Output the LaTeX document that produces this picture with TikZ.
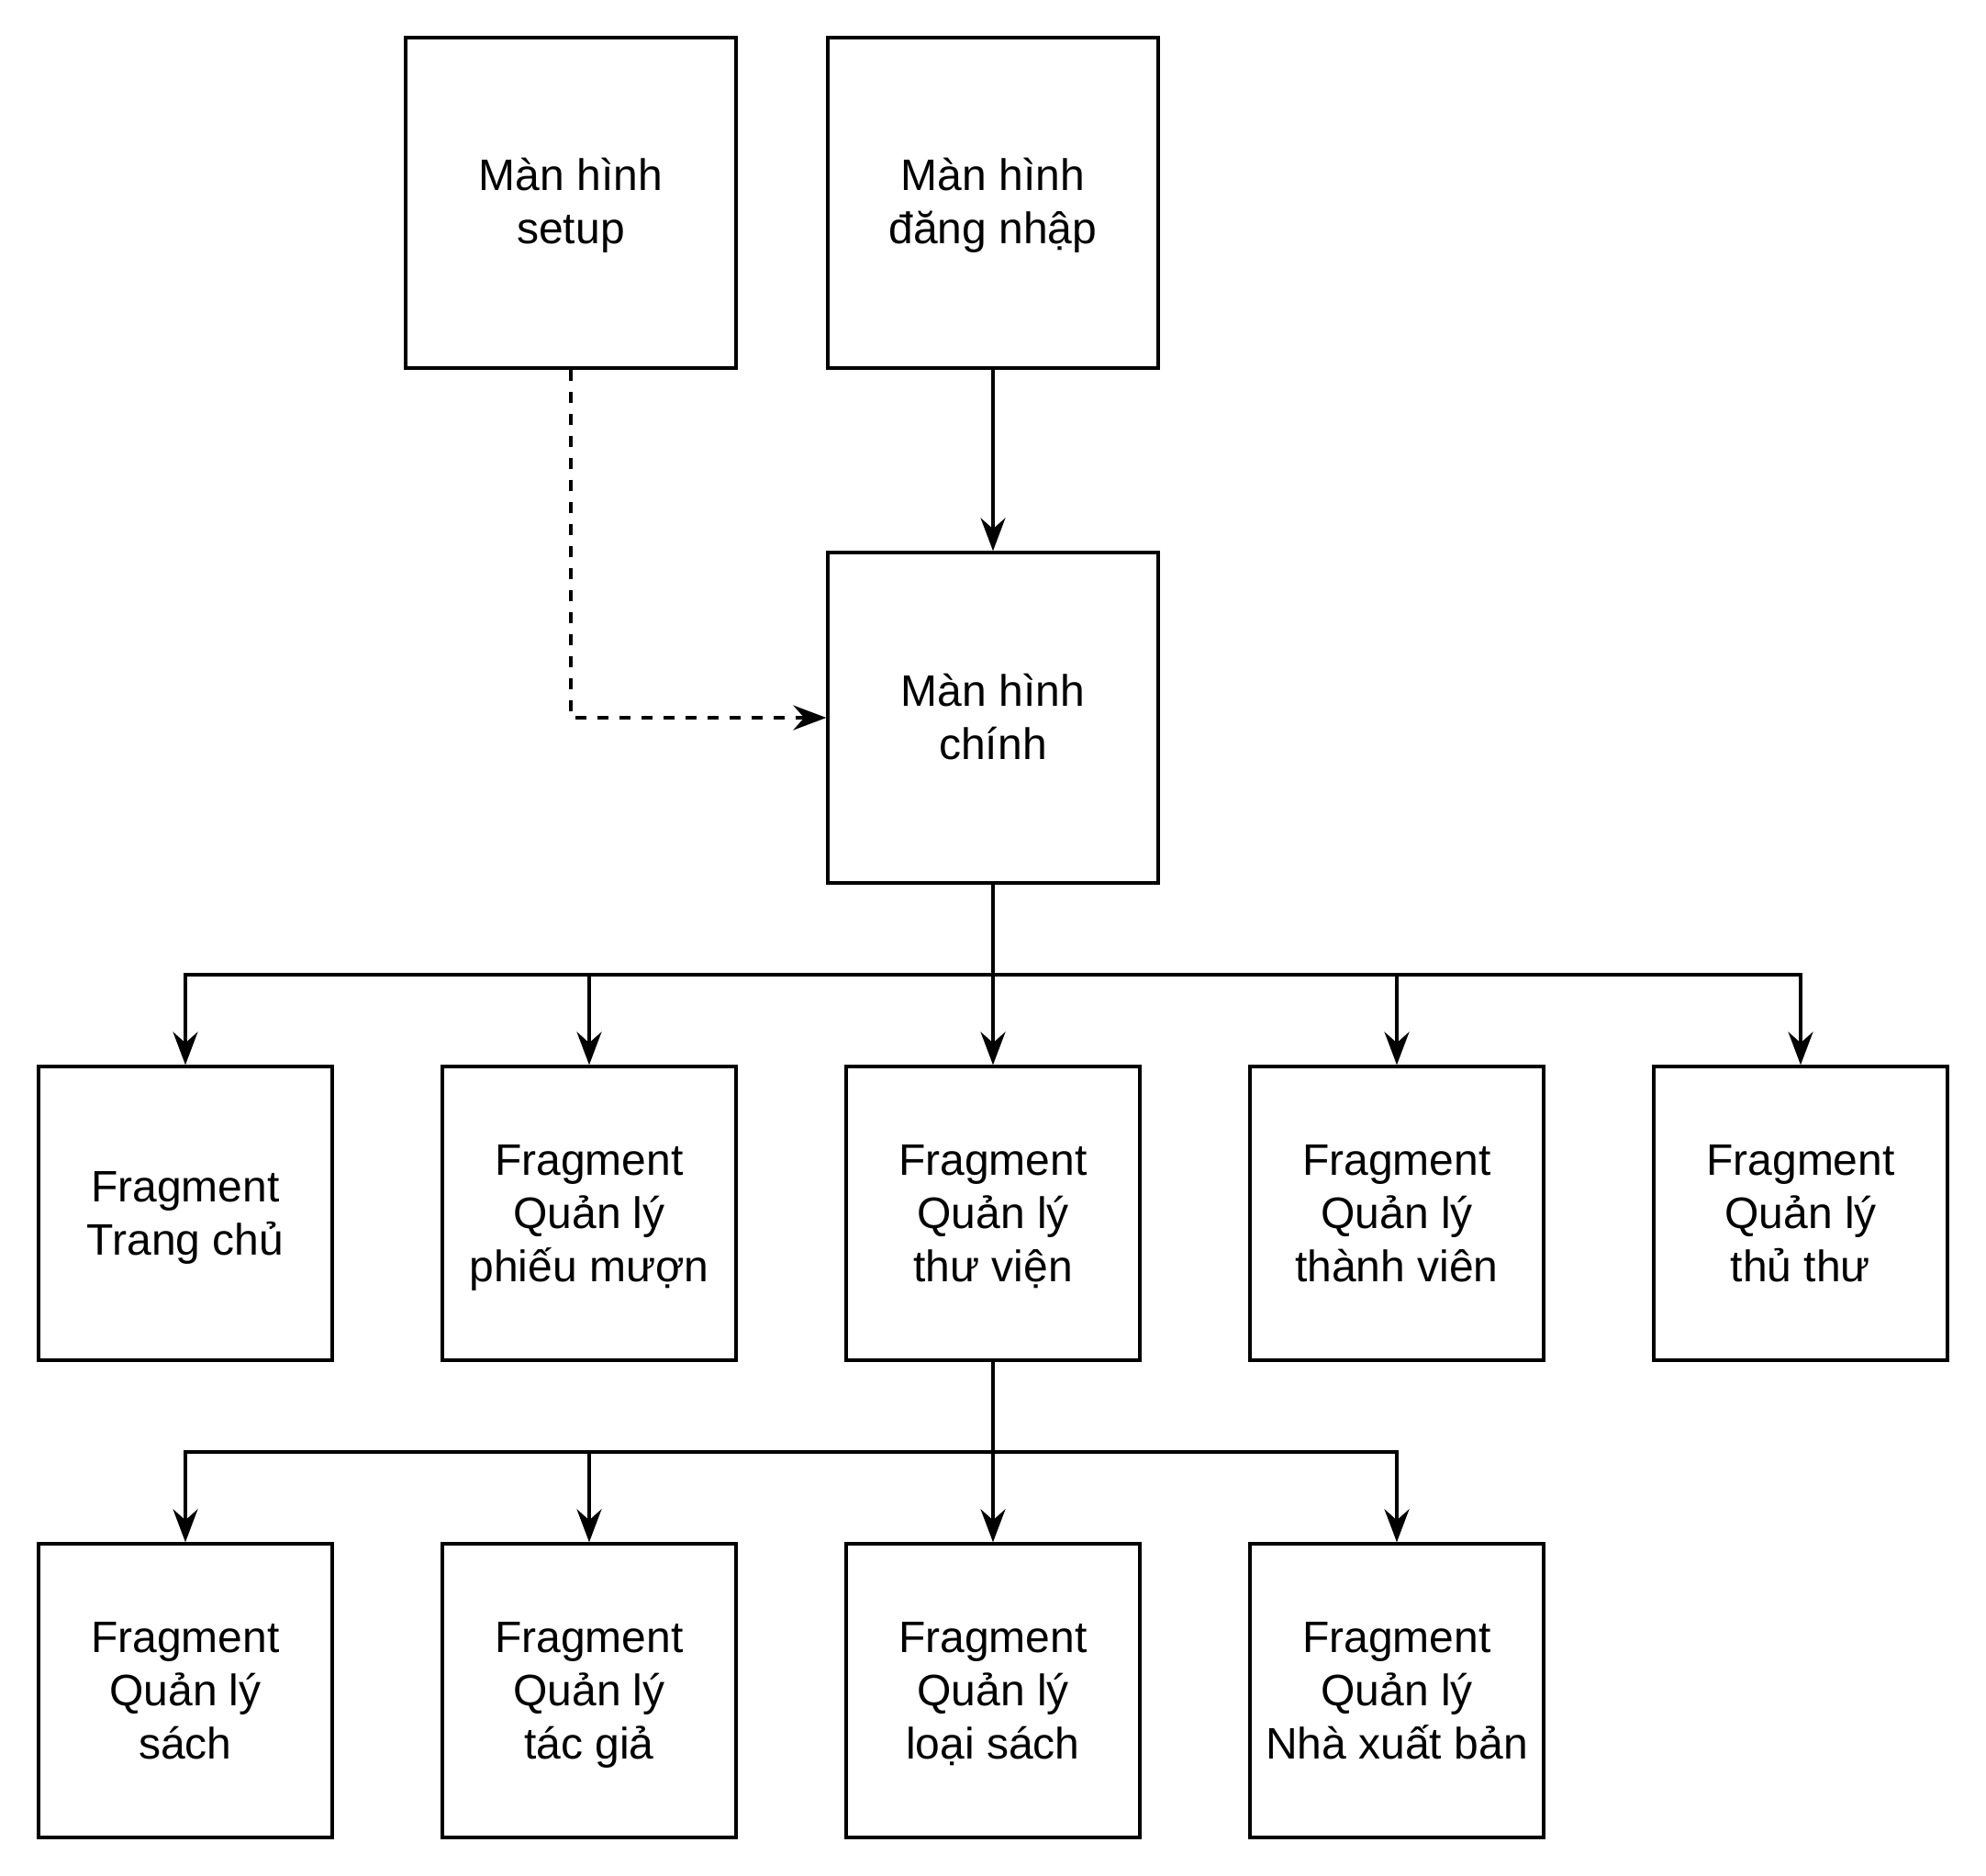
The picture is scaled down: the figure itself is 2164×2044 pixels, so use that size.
\documentclass[tikz,border=0pt]{standalone}
\usepackage{fontspec}
\setmainfont{Liberation Sans}
\usetikzlibrary{arrows.meta}
\begin{document}
\begin{tikzpicture}[x=0.5pt,y=-0.5pt,
  box/.style={draw=black, line width=1.7pt, fill=white, inner sep=0pt},
  bigbox/.style={box, minimum width=180pt, minimum height=180pt},
  smallbox/.style={box, minimum width=160pt, minimum height=160pt},
  txt/.style={align=center, inner sep=0pt, font=\fontsize{24}{29}\selectfont},
  conn/.style={draw=black, line width=1.7pt, -{Stealth[length=18pt,width=13.5pt,inset=6pt]}},
  dashconn/.style={conn, dash pattern=on 6pt off 6pt}]
\useasboundingbox (0,0) rectangle (2164,2044);
\node[bigbox] (setup) at (622,221) {};
\node[bigbox] (login) at (1082,221) {};
\node[bigbox] (main) at (1082,782) {};
\node[smallbox] (f1) at (202,1322) {};
\node[smallbox] (f2) at (642,1322) {};
\node[smallbox] (f3) at (1082,1322) {};
\node[smallbox] (f4) at (1522,1322) {};
\node[smallbox] (f5) at (1962,1322) {};
\node[smallbox] (g1) at (202,1842) {};
\node[smallbox] (g2) at (642,1842) {};
\node[smallbox] (g3) at (1082,1842) {};
\node[smallbox] (g4) at (1522,1842) {};
\node[txt] (setup-t) at ([yshift=-2.2pt]setup.center) {\strut Màn hình\\\strut setup};
\node[txt] (login-t) at ([yshift=-2.2pt]login.center) {\strut Màn hình\\\strut đăng nhập};
\node[txt] (main-t) at ([yshift=-2.2pt]main.center) {\strut Màn hình\\\strut chính};
\node[txt] (f1-t) at ([yshift=-2.2pt]f1.center) {\strut Fragment\\\strut Trang chủ};
\node[txt] (f2-t) at ([yshift=-2.2pt]f2.center) {\strut Fragment\\\strut Quản lý\\\strut phiếu mượn};
\node[txt] (f3-t) at ([yshift=-2.2pt]f3.center) {\strut Fragment\\\strut Quản lý\\\strut thư viện};
\node[txt] (f4-t) at ([yshift=-2.2pt]f4.center) {\strut Fragment\\\strut Quản lý\\\strut thành viên};
\node[txt] (f5-t) at ([yshift=-2.2pt]f5.center) {\strut Fragment\\\strut Quản lý\\\strut thủ thư};
\node[txt] (g1-t) at ([yshift=-2.2pt]g1.center) {\strut Fragment\\\strut Quản lý\\\strut sách};
\node[txt] (g2-t) at ([yshift=-2.2pt]g2.center) {\strut Fragment\\\strut Quản lý\\\strut tác giả};
\node[txt] (g3-t) at ([yshift=-2.2pt]g3.center) {\strut Fragment\\\strut Quản lý\\\strut loại sách};
\node[txt] (g4-t) at ([yshift=-2.2pt]g4.center) {\strut Fragment\\\strut Quản lý\\\strut Nhà xuất bản};
\coordinate (br1) at (1082,1062);
\coordinate (br2) at (1082,1582);
\draw[conn] (login) -- (main);
\draw[dashconn] (setup.south) |- (main.west);
\draw[conn] (main.south) -- (f3.north);
\draw[conn] (br1) -| (f1.north);
\draw[conn] (br1) -| (f2.north);
\draw[conn] (br1) -| (f4.north);
\draw[conn] (br1) -| (f5.north);
\draw[conn] (f3.south) -- (g3.north);
\draw[conn] (br2) -| (g1.north);
\draw[conn] (br2) -| (g2.north);
\draw[conn] (br2) -| (g4.north);
\end{tikzpicture}
\end{document}
